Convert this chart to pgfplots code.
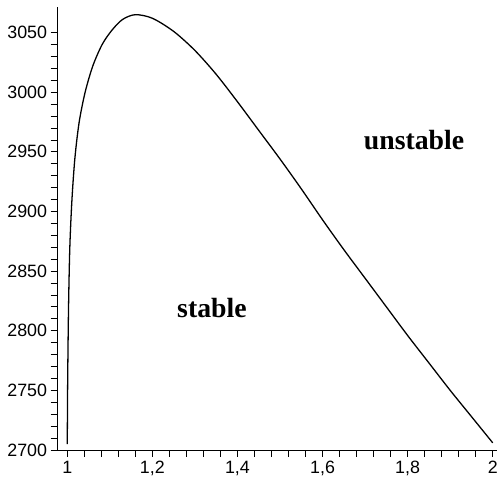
\documentclass[border=0pt]{standalone}
\usepackage{fontspec}
\usepackage{pgfplots}
\pgfplotsset{compat=1.18}
\setmainfont{Liberation Serif}
\newfontfamily\tickfont{Liberation Sans}

\begin{document}
\begin{tikzpicture}
  \begin{axis}[
      scale only axis,
      width=443pt, height=447pt,
      xmin=0.977, xmax=2.009,
      ymin=2700, ymax=3071.5,
      axis lines=left,
      axis line style={-, line width=0.9pt},
      xtick={1,1.2,...,2.01},
      ytick={2700,2750,...,3050},
      minor x tick num=4,
      minor y tick num=4,
      tick align=outside,
      major tick length=7pt,
      minor tick length=7pt,
      tick style={black, line width=0.8pt},
      /pgf/number format/use comma,
      /pgf/number format/1000 sep={},
      /pgf/number format/assume math mode=true,
      xticklabel style={font=\tickfont\fontsize{18}{20}\selectfont, yshift=-1pt},
      yticklabel style={font=\tickfont\fontsize{18}{20}\selectfont},
      clip=false,
    ]
    \addplot[black, line width=1.3pt, smooth, tension=0.5] coordinates {
      (1.000,2705) (1.001,2760) (1.003,2820) (1.006,2870) (1.011,2910)
      (1.018,2945) (1.028,2975) (1.042,3000) (1.060,3022) (1.082,3040)
      (1.105,3052) (1.130,3061) (1.160,3065) (1.200,3062) (1.250,3051)
      (1.300,3035) (1.350,3015) (1.400,2992) (1.450,2968) (1.500,2944)
      (1.550,2919) (1.600,2893) (1.650,2868) (1.700,2844) (1.750,2820)
      (1.800,2796) (1.850,2773) (1.900,2750) (1.950,2728) (2.000,2706)
    };
    \node[font=\bfseries\fontsize{28}{30}\selectfont] at (axis cs:1.340,2819) {stable};
    \node[font=\bfseries\fontsize{28}{30}\selectfont] at (axis cs:1.815,2960) {unstable};
  \end{axis}
  \path (current axis.south west) ++(-58pt,-34pt) (current axis.north east) ++(0pt,7pt);
\end{tikzpicture}
\end{document}
